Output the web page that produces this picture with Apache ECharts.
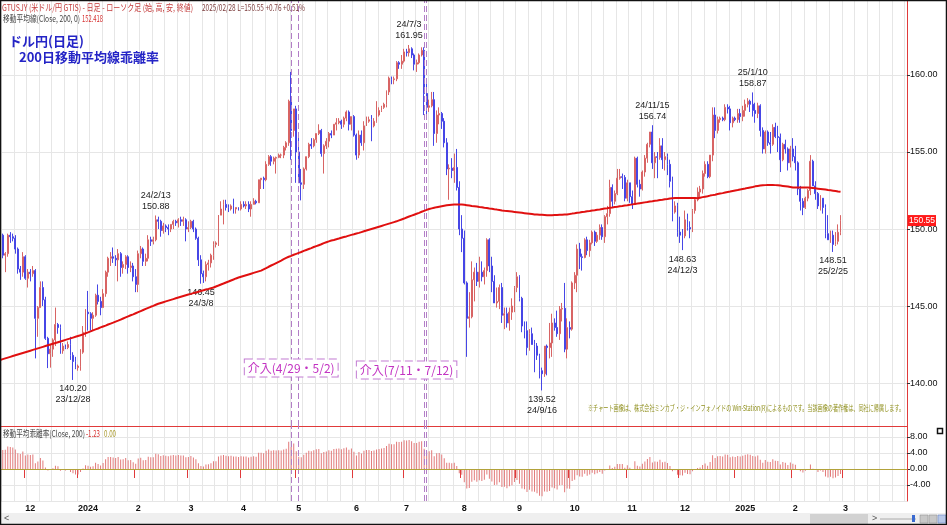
<!DOCTYPE html>
<html><head><meta charset="utf-8">
<script src="https://cdn.jsdelivr.net/npm/echarts@6/dist/echarts.min.js"></script>
<style>html,body{margin:0;padding:0;background:#fff}#c{width:947px;height:525px}</style>
</head><body><div id="c"></div>
<script>
// ---------- categories ----------
const startDate = '2023-11-17';
const totalSlots = 362;

// ---------- daily candles [open, close, low, high] ----------
const nov2023 = [[150.7,149.6,149.2,150.8],[149.6,148.3,148.1,149.7],[148.3,148.4,147.2,148.5],[148.4,149.6,148.2,149.7],[149.6,149.5,149.1,149.8],[149.5,149.4,149.2,149.7],[149.4,148.7,148.4,149.6],[148.7,147.4,147.1,148.8],[147.4,147.2,146.7,147.6],[147.2,148.2,146.9,148.5]];
const dec2023 = [[148.2,146.8,146.7,148.3],[146.8,147.2,146.2,147.4],[147.2,147.1,146.6,147.4],[147.1,147.3,146.9,147.6],[147.3,144.2,141.6,147.4],[144.2,144.9,143.0,145.0],[144.9,146.2,144.9,146.6],[146.2,145.4,145.0,146.6],[145.4,142.9,142.8,145.6],[142.9,141.9,140.97,143.0],[141.9,142.2,141.0,142.5],[142.2,142.8,141.7,142.9],[142.8,143.8,142.4,144.9],[143.8,143.6,143.2,143.9],[143.6,142.1,141.9,143.8],[142.1,142.4,141.9,142.6],[142.4,142.3,142.2,142.5],[142.3,142.5,142.2,142.7],[142.5,141.8,141.5,143.0],[141.8,141.4,140.2,142.0],[141.4,141.0,140.9,141.7]];
const jan2024 = [[141.0,141.1,140.8,141.2],[141.1,142.0,140.8,142.2],[142.0,143.3,141.9,143.7],[143.3,144.6,143.0,144.8],[144.6,144.5,143.4,145.98],[144.5,144.2,143.4,144.6],[144.2,144.4,143.4,144.6],[144.4,145.7,144.3,145.8],[145.7,145.3,145.1,146.4],[145.3,144.9,144.4,145.6],[144.9,145.8,144.9,146.1],[145.8,147.2,145.6,147.3],[147.2,148.1,146.9,148.2],[148.1,148.2,147.6,148.5],[148.2,148.1,147.8,148.8],[148.1,148.0,147.6,148.3],[148.0,148.4,146.6,148.7],[148.4,147.5,146.9,148.5],[147.5,147.7,147.1,147.9],[147.7,148.2,147.4,148.3],[148.2,147.5,147.1,148.3],[147.5,147.6,147.2,147.9],[147.6,146.9,146.6,147.8]];
const feb2024 = [[146.9,146.4,145.9,147.4],[146.4,148.4,145.9,148.6],[148.4,148.7,148.1,148.9],[148.7,147.9,147.6,148.8],[147.9,148.1,147.6,148.4],[148.1,149.3,147.9,149.6],[149.3,149.2,148.9,149.5],[149.2,149.3,149.0,149.5],[149.3,150.6,149.2,150.88],[150.6,150.5,150.0,150.8],[150.5,149.9,149.5,150.6],[149.9,150.2,149.7,150.4],[150.2,150.1,149.8,150.3],[150.1,150.0,149.6,150.3],[150.0,150.3,149.8,150.3],[150.3,150.5,150.0,150.6],[150.5,150.4,150.2,150.6],[150.4,150.6,150.1,150.7],[150.6,150.5,150.2,150.8],[150.5,150.6,150.2,150.8],[150.6,150.0,149.2,150.7]];
const mar2024 = [[150.0,150.1,149.8,150.5],[150.1,150.5,150.0,150.6],[150.5,150.0,149.8,150.6],[150.0,149.4,149.3,150.1],[149.4,148.0,147.6,149.5],[148.0,147.1,146.45,148.3],[147.1,146.9,146.5,147.3],[146.9,147.7,146.6,147.9],[147.7,147.8,147.3,148.0],[147.8,148.3,147.5,148.4],[148.3,149.0,148.0,149.2],[149.0,149.1,148.8,149.2],[149.1,150.9,148.9,150.9],[150.9,151.3,150.9,151.8],[151.3,151.6,150.3,151.9],[151.6,151.4,151.2,151.9],[151.4,151.3,151.1,151.6],[151.3,151.5,151.2,151.6],[151.5,151.3,151.0,151.97],[151.3,151.4,151.0,151.4],[151.4,151.3,151.2,151.4]];
const apr2024 = [[151.3,151.6,151.2,151.8],[151.6,151.5,151.4,151.8],[151.5,151.6,151.3,151.8],[151.6,151.3,151.1,151.8],[151.3,151.6,150.8,151.8],[151.6,151.8,151.6,152.0],[151.8,151.7,151.6,151.9],[151.7,153.2,151.7,153.2],[153.2,153.3,152.6,153.3],[153.3,153.2,152.6,153.4],[153.2,154.2,153.1,154.4],[154.2,154.7,154.1,154.8],[154.7,154.4,154.1,154.8],[154.4,154.6,154.2,154.7],[154.6,154.65,153.6,154.7],[154.65,154.8,154.6,154.9],[154.8,154.8,154.6,154.9],[154.8,155.3,154.6,155.4],[155.3,155.6,155.1,155.7],[155.6,158.3,155.4,158.4],[158.3,156.4,154.5,160.2],[156.4,157.8,156.0,157.8]];
const may2024 = [[157.8,155.0,153.0,158.0],[155.0,153.0,153.0,156.0],[153.0,152.9,151.86,153.9],[152.9,153.9,152.6,154.0],[153.9,154.7,153.8,154.7],[154.7,155.5,154.6,155.6],[155.5,155.4,155.2,155.9],[155.4,155.8,155.3,155.9],[155.8,156.2,155.6,156.2],[156.2,156.4,156.1,156.8],[156.4,154.9,154.7,156.5],[154.9,155.4,153.6,155.5],[155.4,155.7,155.2,155.9],[155.7,156.2,155.3,156.3],[156.2,156.1,155.9,156.4],[156.1,156.8,156.1,156.8],[156.8,156.9,156.4,157.2],[156.9,157.0,156.8,157.2],[157.0,156.8,156.5,157.1],[156.8,157.2,156.6,157.3],[157.2,157.6,157.0,157.7],[157.6,156.8,156.4,157.7],[156.8,157.3,156.4,157.3]];
const jun2024 = [[157.3,156.1,156.0,157.4],[156.1,154.8,154.5,156.2],[154.8,156.1,154.6,156.4],[156.1,155.6,155.4,156.4],[155.6,156.7,155.1,157.0],[156.7,157.0,156.7,157.3],[157.0,157.1,156.9,157.3],[157.1,156.7,155.7,157.4],[156.7,157.0,156.6,157.2],[157.0,157.4,156.9,158.3],[157.4,157.7,157.3,157.9],[157.7,157.9,157.6,158.0],[157.9,158.1,157.8,158.2],[158.1,158.9,157.9,159.0],[158.9,159.8,158.7,159.9],[159.8,159.7,159.4,159.9],[159.7,159.75,159.4,159.9],[159.75,160.8,159.6,160.9],[160.8,160.7,160.4,160.9],[160.7,160.9,160.4,161.3]];
const jul2024 = [[160.9,161.5,160.8,161.7],[161.5,161.45,161.2,161.7],[161.45,161.7,161.2,161.95],[161.7,161.3,161.1,161.8],[161.3,160.7,160.3,161.4],[160.7,160.8,160.2,161.0],[160.8,161.3,160.7,161.4],[161.3,161.6,161.2,161.8],[161.6,158.8,157.4,161.8],[158.8,157.9,157.4,159.5],[157.9,158.0,157.6,158.4],[158.0,158.4,157.9,158.9],[158.4,156.2,155.4,158.9],[156.2,157.4,155.6,157.7],[157.4,157.5,156.8,157.9],[157.5,157.0,156.5,157.6],[157.0,155.6,155.3,157.2],[155.6,153.9,153.5,155.9],[153.9,153.95,151.9,154.2],[153.95,153.8,153.3,154.6],[153.8,154.0,153.0,154.9],[154.0,152.7,152.5,155.2],[152.7,150.0,149.6,153.1]];
const aug2024 = [[150.0,149.4,148.5,150.9],[149.4,146.5,146.4,149.9],[146.5,144.2,141.7,146.6],[144.2,144.3,143.6,145.9],[144.3,146.7,144.2,147.9],[146.7,147.2,145.3,147.5],[147.2,146.6,146.3,147.8],[146.6,147.2,146.2,148.2],[147.2,146.9,146.6,147.9],[146.9,147.3,146.4,147.5],[147.3,149.3,146.9,149.4],[149.3,147.6,147.2,149.4],[147.6,146.6,145.9,148.2],[146.6,145.2,145.2,147.0],[145.2,145.3,144.9,146.2],[145.3,146.2,144.8,146.4],[146.2,144.4,143.9,146.5],[144.4,144.5,143.5,144.9],[144.5,143.9,143.6,144.9],[143.9,144.6,143.4,144.9],[144.6,145.0,144.1,145.5],[145.0,146.2,144.6,146.3]];
const sep2024 = [[146.2,146.9,145.9,147.2],[146.9,145.5,145.3,147.0],[145.5,143.7,143.3,145.6],[143.7,143.4,142.9,144.0],[143.4,142.3,141.8,144.0],[142.3,143.2,142.1,143.5],[143.2,142.5,142.5,143.6],[142.5,142.4,140.7,142.8],[142.4,141.8,141.5,142.6],[141.8,140.8,140.3,141.9],[140.8,140.6,139.52,141.0],[140.6,142.4,140.4,142.4],[142.4,142.3,140.5,142.5],[142.3,142.6,141.6,143.9],[142.6,143.9,141.7,144.5],[143.9,143.6,143.4,144.2],[143.6,143.2,143.0,144.7],[143.2,144.8,142.8,145.0],[144.8,144.85,144.0,145.2],[144.85,142.2,142.0,146.5],[142.2,143.6,141.6,144.2]];
const oct2024 = [[143.6,143.5,142.9,144.0],[143.5,146.5,143.4,146.6],[146.5,147.0,146.1,147.2],[147.0,148.7,145.9,149.0],[148.7,148.2,147.4,149.1],[148.2,148.15,147.3,148.4],[148.15,149.3,148.1,149.4],[149.3,148.6,148.3,149.5],[148.6,149.1,148.2,149.3],[149.1,149.8,149.0,149.9],[149.8,149.2,148.9,149.9],[149.2,149.6,149.1,149.8],[149.6,150.1,149.3,150.3],[150.1,149.5,149.3,150.3],[149.5,150.8,149.1,150.9],[150.8,151.0,150.3,151.5],[151.0,152.7,150.8,153.2],[152.7,151.8,151.4,152.9],[151.8,152.3,151.6,152.5],[152.3,153.3,152.2,153.9],[153.3,153.4,153.2,153.9],[153.4,153.35,152.6,153.6],[153.35,152.0,151.8,153.5]];
const nov2024 = [[152.0,153.0,151.8,153.2],[153.0,152.1,151.7,153.0],[152.1,151.6,151.3,152.5],[151.6,154.6,151.6,154.7],[154.6,152.9,152.7,154.7],[152.9,152.6,152.1,153.2],[152.6,153.7,152.5,153.8],[153.7,154.6,153.4,154.8],[154.6,155.5,154.3,155.6],[155.5,156.3,155.3,156.3],[156.3,154.3,153.9,156.74],[154.3,154.7,153.3,155.0],[154.7,154.65,153.3,155.0],[154.65,155.4,154.5,155.9],[155.4,154.5,153.9,155.9],[154.5,154.7,153.8,155.0],[154.7,154.2,153.5,154.9],[154.2,153.1,152.7,154.5],[153.1,151.1,150.5,153.4],[151.1,151.5,151.0,151.8],[151.5,149.8,149.5,151.7]];
const dec2024 = [[149.8,149.6,149.1,150.8],[149.6,149.55,148.63,150.0],[149.55,150.6,149.4,151.2],[150.6,150.1,149.9,151.0],[150.1,150.0,149.4,150.5],[150.0,151.2,149.8,151.3],[151.2,151.9,151.0,152.0],[151.9,152.4,151.8,152.7],[152.4,152.6,152.0,152.8],[152.6,153.6,152.3,153.8],[153.6,154.2,153.4,154.4],[154.2,153.4,153.3,154.4],[153.4,154.8,153.3,154.8],[154.8,157.4,154.4,157.9],[157.4,156.4,155.9,157.9],[156.4,157.1,156.2,157.3],[157.1,157.2,156.9,157.3],[157.2,157.1,157.0,157.3],[157.1,157.9,157.0,158.1],[157.9,157.8,157.5,158.1],[157.8,156.9,156.4,158.0],[156.9,157.2,156.6,157.3]];
const jan2025 = [[157.2,157.1,157.0,157.3],[157.1,157.5,156.9,157.8],[157.5,157.3,156.9,157.8],[157.3,157.7,157.0,158.0],[157.7,158.1,157.3,158.4],[158.1,158.3,157.9,158.5],[158.3,158.1,157.6,158.4],[158.1,157.7,157.3,158.87],[157.7,157.5,156.9,158.2],[157.5,158.0,157.2,158.2],[158.0,156.4,156.0,158.1],[156.4,155.2,154.9,156.6],[155.2,156.3,154.9,156.4],[156.3,155.6,155.4,156.4],[155.6,155.5,154.9,156.3],[155.5,156.6,155.4,156.8],[156.6,156.0,155.9,156.9],[156.0,155.95,155.0,156.7],[155.95,154.5,153.7,156.2],[154.5,155.5,154.4,155.6],[155.5,155.2,154.9,155.8],[155.2,154.3,153.8,155.3],[154.3,155.2,154.0,155.4]];
const feb2025 = [[155.2,154.7,154.4,155.9],[154.7,154.3,153.8,155.4],[154.3,152.6,152.2,154.4],[152.6,151.8,151.2,152.8],[151.8,151.4,150.9,152.0],[151.4,152.0,151.3,152.1],[152.0,152.5,151.8,152.6],[152.5,154.4,152.2,154.8],[154.4,152.8,152.8,154.5],[152.8,152.3,151.9,153.1],[152.3,151.5,151.3,152.4],[151.5,152.0,151.2,152.2],[152.0,151.4,151.0,152.0],[151.4,149.7,149.4,151.6],[149.7,149.3,149.3,150.9],[149.3,149.6,149.1,149.9],[149.6,149.0,148.51,149.9],[149.0,149.2,148.9,149.8],[149.2,149.79,149.0,150.3],[149.79,150.55,149.6,150.9]];

// ---------- 200-day moving average ----------
const ma200 = [
141.50,141.55,141.60,141.65,141.70,141.75,141.80,141.85,141.90,141.95,142.00,142.05,142.10,142.15,142.20,142.25,142.30,142.35,142.40,142.45,142.50,
142.55,142.60,142.65,142.70,142.75,142.80,142.85,142.90,142.95,143.00,143.05,143.10,
143.16,143.23,143.29,143.35,143.42,143.48,143.54,143.61,143.67,143.73,143.80,143.86,143.92,143.99,144.05,
144.12,144.19,144.26,144.33,144.40,144.46,144.53,144.60,144.67,144.74,144.81,144.88,144.95,145.01,145.08,145.15,
145.20,145.25,145.30,145.35,145.40,145.45,145.50,145.55,145.60,145.65,145.70,
145.75,145.79,145.84,145.88,145.93,145.98,146.02,146.07,146.11,146.16,146.20,
146.27,146.33,146.40,146.46,146.53,146.59,146.66,146.72,146.79,146.85,
146.90,146.95,147.00,147.05,147.10,147.15,147.20,147.25,147.30,
147.38,147.46,147.55,147.63,147.71,147.79,147.87,147.95,148.04,148.12,148.20,
148.26,148.33,148.39,148.45,148.51,148.58,148.64,148.70,148.76,148.83,148.89,148.95,149.01,149.08,149.14,149.20,
149.25,149.29,149.34,149.38,149.43,149.48,149.52,149.57,149.62,149.66,149.71,149.75,149.80,
149.85,149.90,149.95,150.00,150.05,150.10,150.15,150.20,150.25,150.30,150.35,150.40,150.45,150.50,
150.56,150.62,150.68,150.75,150.81,150.87,150.93,150.99,151.05,151.12,151.18,151.24,151.30,
151.34,151.38,151.42,151.45,151.48,151.51,151.54,151.56,151.58,151.59,151.60,
151.60,151.59,151.57,151.55,151.53,151.50,151.48,151.46,151.43,151.41,151.38,151.36,151.33,151.31,151.28,151.26,151.23,151.20,
151.18,151.17,151.15,151.13,151.11,151.09,151.07,151.05,151.03,151.01,150.99,150.97,150.95,150.94,150.93,150.92,150.91,150.90,
150.90,150.90,150.91,150.91,150.92,150.93,150.94,150.95,150.97,
151.00,151.02,151.05,151.07,151.10,151.12,151.15,151.17,151.20,151.22,151.25,151.27,151.30,
151.33,151.35,151.38,151.40,151.43,151.45,151.48,151.50,151.53,151.55,151.58,151.60,
151.63,151.65,151.68,151.70,151.73,151.75,151.78,151.80,151.83,151.85,151.88,151.90,151.93,151.95,151.98,152.00,
152.01,152.01,152.02,152.02,152.02,152.02,152.02,152.02,152.01,152.00,
152.03,152.07,152.10,152.13,152.17,152.20,152.23,152.27,152.30,152.33,152.37,152.40,
152.43,152.47,152.50,152.53,152.57,152.60,152.63,152.67,152.70,152.73,152.77,152.80,
152.82,152.84,152.85,152.86,152.86,152.86,152.85,152.84,152.82,152.80,152.78,152.76,152.73,152.70,
152.70,152.70,152.70,152.70,152.69,152.69,152.68,152.66,
152.64,152.62,152.60,152.58,152.56,152.53,152.51,152.49,152.47,152.44,152.42
];

// ---------- annotations ----------
const extremeDates  = ['2023-12-28','2024-02-13','2024-03-08','2024-07-03','2024-09-16','2024-11-15','2024-12-03','2025-01-10','2025-02-25'];
const extremeValues = [140.20, 150.88, 146.45, 161.95, 139.52, 156.74, 148.63, 158.87, 148.51];
const extremeTexts  = ['140.20\n23/12/28','24/2/13\n150.88','146.45\n24/3/8','24/7/3\n161.95','139.52\n24/9/16','24/11/15\n156.74','148.63\n24/12/3','25/1/10\n158.87','148.51\n25/2/25'];
const extremeSides  = ['bottom','top','bottom','top','bottom','top','bottom','top','bottom'];
const interventionDays = ['2024-04-29','2024-05-02','2024-07-11','2024-07-12'];
const interventionLabels = ['介入(4/29・5/2)','介入(7/11・7/12)'];
const interventionAnchors = [['2024-04-29',140.97],['2024-07-02',140.84]];
const lastPrice = 150.55;

// ---------- build ----------
const candles = [].concat(nov2023,dec2023,jan2024,feb2024,mar2024,apr2024,may2024,jun2024,jul2024,aug2024,sep2024,oct2024,nov2024,dec2024,jan2025,feb2025);
function fmt(d){return d.getUTCFullYear()+'-'+String(d.getUTCMonth()+1).padStart(2,'0')+'-'+String(d.getUTCDate()).padStart(2,'0');}
const dates=[]; {let d=new Date(startDate+'T00:00:00Z'); while(dates.length<totalSlots){const w=d.getUTCDay(); if(w!==0&&w!==6) dates.push(fmt(d)); d.setUTCDate(d.getUTCDate()+1);}}
const monthStart = dates.map((s,i)=> i>0 && i<=candles.length && s.slice(5,7)!==dates[i-1].slice(5,7));
const isMonday = dates.map(s=> new Date(s+'T00:00:00Z').getUTCDay()===1);
const deviation = candles.map((c,i)=> +(((c[1]/ma200[i])-1)*100).toFixed(2));

const RED='#e03a3a', GRID='#e6e6e6', PURPLE='#b27ec6';
const annFont = 'Liberation Sans';
const mctx = document.createElement('canvas').getContext('2d');
function fitText(text,x,y,color,size,target,extra){
  const font = size+'px "Noto Sans CJK JP"';
  mctx.font = font; const w = mctx.measureText(text).width || 1;
  return Object.assign({type:'text', x:x, y:y, scaleX: target/w, z:100,
    style:{text:text, fill:color, font:font, textVerticalAlign:'middle', verticalAlign:'middle'}}, extra||{});
}

const chart = echarts.init(document.getElementById('c'), null, {width:947, height:525});
const option = {
  animation:false,
  backgroundColor:'#ffffff',
  grid:[
    {left:-1, top:0, width:908, height:426, containLabel:false, outerBoundsMode:'none'},
    {left:-1, top:426, width:908, height:75, containLabel:false, outerBoundsMode:'none'}
  ],
  xAxis:[
    {type:'category', gridIndex:0, data:dates, boundaryGap:true,
     axisLine:{show:true, lineStyle:{color:RED, width:1}}, axisTick:{show:false}, axisLabel:{show:false},
     splitLine:{show:true, interval:(i)=>isMonday[i], lineStyle:{color:GRID, width:1}}},
    {type:'category', gridIndex:1, data:dates, boundaryGap:true,
     axisLine:{show:true, lineStyle:{color:RED, width:1}},
     axisTick:{show:true, interval:(i)=>monthStart[i], length:9, lineStyle:{color:RED, width:1}},
     axisLabel:{show:true, interval:(i)=>monthStart[i], align:'left', margin:3,
       formatter:(v)=> v.slice(5,7)==='01' ? v.slice(0,4) : String(+v.slice(5,7)),
       fontSize:9, fontWeight:'bold', color:'#111', fontFamily:annFont},
     splitLine:{show:true, interval:(i)=>isMonday[i], lineStyle:{color:GRID, width:1}}}
  ],
  yAxis:[
    {type:'value', gridIndex:0, position:'right', min:137.21, max:164.87, splitNumber:5,
     axisLine:{show:true, lineStyle:{color:RED, width:1}}, axisTick:{show:true, length:3, lineStyle:{color:'#333'}},
     axisLabel:{formatter:(v)=>v.toFixed(2), showMinLabel:false, showMaxLabel:false, fontSize:9, color:'#111', margin:3, fontFamily:annFont},
     splitLine:{show:true, lineStyle:{color:GRID, width:1}}},
    {type:'value', gridIndex:1, position:'right', min:-8, max:10.75, interval:4,
     axisLine:{show:true, lineStyle:{color:RED, width:1}}, axisTick:{show:true, length:3, lineStyle:{color:'#333'}},
     axisLabel:{formatter:(v)=>v.toFixed(2), showMinLabel:false, showMaxLabel:false, fontSize:9, color:'#111', margin:3, fontFamily:annFont},
     splitLine:{show:true, lineStyle:{color:GRID, width:1}}}
  ],
  series:[
    {type:'candlestick', name:'USDJPY', xAxisIndex:0, yAxisIndex:0, data:candles, barWidth:1.4, large:false,
     itemStyle:{color:'#f0a0a0', color0:'#1010f4', borderColor:'#d86464', borderColor0:'#4646e6', borderWidth:1},
     markLine:{silent:true, symbol:['none','none'], label:{show:false},
       lineStyle:{color:PURPLE, type:[6,3], width:1},
       data: interventionDays.map(d=>({xAxis:d})).concat([
         {yAxis:lastPrice, lineStyle:{color:'rgba(0,0,0,0)', width:1},
          label:{show:true, position:'end', distance:1, formatter:lastPrice.toFixed(2), backgroundColor:'#ff1a1a', color:'#ffffff', padding:[1,1], fontSize:8.5, fontFamily:annFont}}])},
     markPoint:{silent:true, symbol:'circle', symbolSize:1, itemStyle:{color:'rgba(0,0,0,0)'},
       data: extremeDates.map((d,i)=>({coord:[d, extremeValues[i]],
         label:{show:true, position:extremeSides[i], distance:3, formatter:extremeTexts[i], fontSize:9, lineHeight:11, color:'#222', fontFamily:annFont, align:'center'}}))
         .concat(interventionAnchors.map((a,i)=>({coord:a,
         label:{show:true, position:'inside', formatter:interventionLabels[i], fontSize:12, color:'#c232c2', fontFamily:'Noto Sans CJK JP',
           backgroundColor:'#ffffff', borderColor:'#c27ad2', borderWidth:1, borderType:'dashed', padding:[3,3,2,3]}})))}
    },
    {type:'line', name:'MA200', xAxisIndex:0, yAxisIndex:0, data:ma200, showSymbol:false, smooth:false, z:5,
     lineStyle:{color:'#e01010', width:2}},
    {type:'bar', name:'乖離率', xAxisIndex:1, yAxisIndex:1, data:deviation, barWidth:1, itemStyle:{color:'#e27a7a'},
     markLine:{silent:true, symbol:['none','none'], label:{show:false},
       data: interventionDays.map(d=>({xAxis:d, lineStyle:{color:PURPLE, type:[6,3], width:1}}))
         .concat([{yAxis:0, lineStyle:{color:'#b2a23a', type:'solid', width:1.2}}])}}
  ],
  graphic:[
    fitText('GTUSJY (米ドル/円 GTIS) - 日足 - ローソク足 (始, 高, 安, 終値)', 2, 8, '#c43c3c', 9, 191),
    fitText('2025/02/28 L=150.55 +0.76 +0.51%', 202, 8, '#7c3c3c', 9, 103),
    fitText('移動平均線(Close, 200, 0)', 3, 19, '#444', 9, 77),
    fitText('152.418', 82, 19, '#d63030', 9, 21),
    {type:'text', x:9, y:41, z:100, style:{text:'ドル円(日足)', fill:'#2424c6', font:'bold 13px "Noto Sans CJK JP"', textVerticalAlign:'middle', verticalAlign:'middle'}},
    {type:'text', x:19, y:57, z:100, style:{text:'200日移動平均線乖離率', fill:'#2424c6', font:'bold 13px "Noto Sans CJK JP"', textVerticalAlign:'middle', verticalAlign:'middle'}},
    fitText('※チャート画像は、株式会社ミンカブ・ジ・インフォノイドの Win-Station(R)によるものです。当該画像の著作権は、同社に帰属します。', 588, 408, '#8f8f1c', 8, 316),
    fitText('移動平均乖離率(Close, 200)', 3, 434, '#444', 9, 82),
    fitText('-1.23', 86, 434, '#d63030', 9, 14),
    fitText('0.00', 104, 434, '#a8982a', 9, 12),
    {type:'rect', z:100, shape:{x:937.5, y:428.5, width:5, height:5}, style:{fill:'#fff', stroke:'#111', lineWidth:1.5}},
    {type:'rect', z:90, shape:{x:0, y:513, width:947, height:12}, style:{fill:'#efefef'}},
    {type:'rect', z:91, shape:{x:810, y:514, width:58, height:10}, style:{fill:'#d2d2d2'}},
    {type:'text', x:4, y:519, z:92, style:{text:'<', fill:'#555', font:'9px "Liberation Sans"', textVerticalAlign:'middle', verticalAlign:'middle'}},
    {type:'text', x:872, y:519, z:92, style:{text:'>', fill:'#555', font:'9px "Liberation Sans"', textVerticalAlign:'middle', verticalAlign:'middle'}},
    {type:'line', z:92, shape:{x1:880, y1:519, x2:916, y2:519}, style:{stroke:'#aaa', lineWidth:1}},
    {type:'rect', z:92, shape:{x:912, y:515, width:3, height:7}, style:{fill:'#3a6ad0'}},
    {type:'rect', z:92, shape:{x:920, y:515, width:8, height:8}, style:{fill:'#c8c8c8', stroke:'#888', lineWidth:0.5}},
    {type:'rect', z:92, shape:{x:929, y:515, width:8, height:8}, style:{fill:'#c8c8c8', stroke:'#888', lineWidth:0.5}},
    {type:'rect', z:92, shape:{x:938, y:515, width:8, height:8}, style:{fill:'#b8c8e8', stroke:'#5a7ac0', lineWidth:0.5}},
    {type:'rect', z:110, shape:{x:0.5, y:0.5, width:946, height:524}, style:{fill:null, stroke:'#111', lineWidth:1.5}}
  ]
};
chart.setOption(option);
</script>
</body></html>
